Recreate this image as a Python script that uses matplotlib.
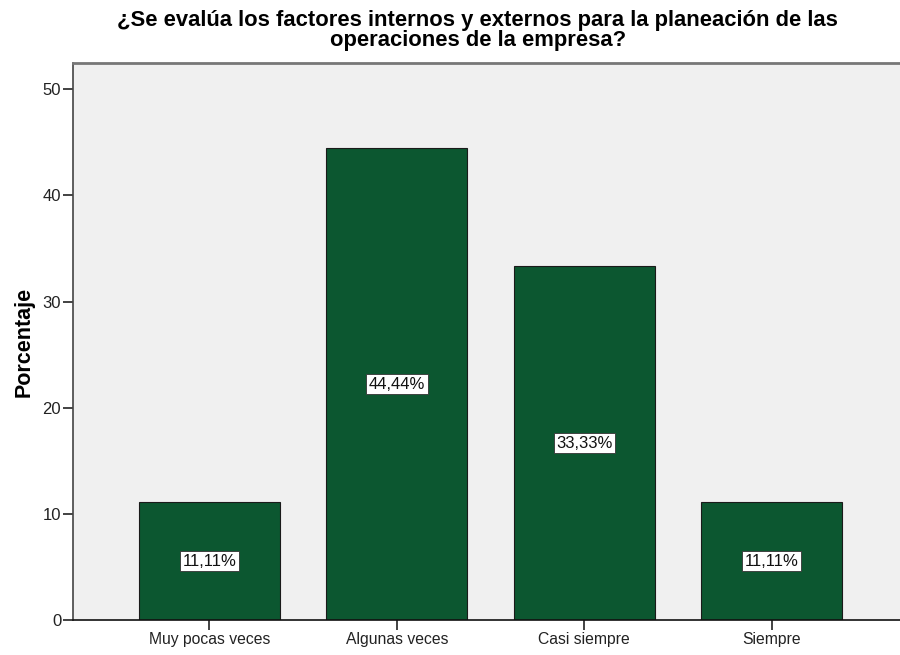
import matplotlib
matplotlib.use("Agg")
import matplotlib.pyplot as plt

plt.rcParams['font.family'] = ['Liberation Sans', 'DejaVu Sans']

categorias = ["Muy pocas veces", "Algunas veces", "Casi siempre", "Siempre"]
porcentajes = [11.11, 44.44, 33.33, 11.11]
yticks = [0, 10, 20, 30, 40, 50]

fig = plt.figure(figsize=(9, 6.55), dpi=100)
ax = fig.add_axes([0.0811, 0.0534, 0.928, 0.850])
ax.set_facecolor("#F0F0F0")

x = list(range(len(categorias)))
ax.bar(x, porcentajes, width=0.752, color="#0C5730", edgecolor="#1a1a1a", linewidth=0.8, zorder=2)

# etiquetas de porcentaje en la mitad de cada barra
for xi, v in zip(x, porcentajes):
    txt = ("%.2f" % v).replace(".", ",") + "%"
    ax.text(xi, v / 2, txt, ha="center", va="center", fontsize=12, color="#111111",
            bbox=dict(boxstyle="square,pad=0.15", facecolor="white", edgecolor="#333333", linewidth=0.6),
            zorder=3)

ax.set_xlim(-0.728, 3.728)
ax.set_ylim(0, 52.45)
ax.set_xticks(x)
ax.set_xticklabels(categorias, fontsize=11.3, color="#222222")
ax.set_yticks(yticks)
ax.set_yticklabels([str(t) for t in yticks], fontsize=12, color="#222222")
ax.tick_params(axis="both", direction="out", length=7, width=1.2, color="#222222", pad=1.5)

ax.spines["top"].set_color("#777777")
ax.spines["top"].set_linewidth(2)
ax.spines["right"].set_visible(False)
ax.spines["left"].set_color("#444444")
ax.spines["left"].set_linewidth(1.2)
ax.spines["bottom"].set_color("#111111")
ax.spines["bottom"].set_linewidth(1.2)

ax.set_ylabel("Porcentaje", fontsize=15.5, fontweight="bold", labelpad=6)

fig.text(0.531, 0.984, "¿Se evalúa los factores internos y externos para la planeación de las\noperaciones de la empresa?",
         ha="center", va="top", fontsize=15.8, fontweight="bold", linespacing=0.93)

fig.savefig("out.png", dpi=100)
